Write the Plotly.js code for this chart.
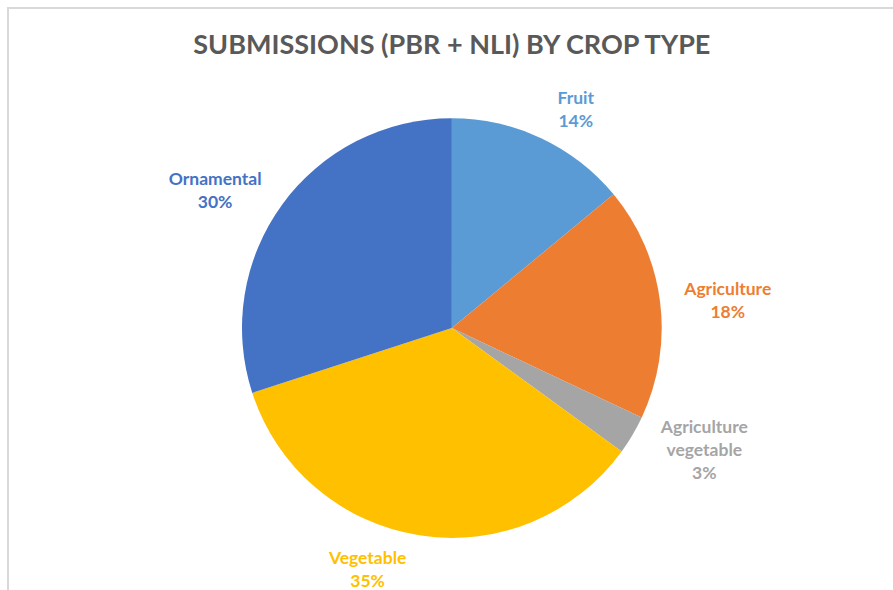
<!DOCTYPE html>
<html>
<head>
<meta charset="utf-8">
<script src="https://cdn.plot.ly/plotly-3.0.1.min.js"></script>
<style>
  html, body { margin: 0; padding: 0; background: #fff; }
  #chart { width: 893px; height: 590px; }
  #frame { position: absolute; left: 7px; top: 7px; width: 900px; height: 600px;
           border-left: 2px solid #d9d9d9; border-top: 2px solid #d9d9d9; pointer-events: none; }
</style>
</head>
<body>
<div id="chart"></div>
<div id="frame"></div>
<script>
const categories = ["Fruit", "Agriculture", "Agriculture<br>vegetable", "Vegetable", "Ornamental"];
const values = [14, 18, 3, 35, 30];
const colors = ["#5B9BD5", "#ED7D31", "#A5A5A5", "#FFC000", "#4472C4"];
const labelColors = ["#5B9BD5", "#ED7D31", "#A5A5A5", "#FFC000", "#4472C4"];
const clear = categories.map(() => "rgba(0,0,0,0)");

// visible pie (no text)
const pieTrace = {
  type: "pie",
  labels: categories,
  values: values,
  sort: false,
  direction: "clockwise",
  rotation: 0,
  marker: { colors: colors, line: { color: "#ffffff", width: 0 } },
  textinfo: "none",
  domain: { x: [0.271, 0.741], y: [0.088, 0.8] },
  automargin: false,
  showlegend: false,
  hoverinfo: "label+percent"
};

// slightly larger transparent pie carrying the outside data labels
const labelTrace = {
  type: "pie",
  labels: categories,
  values: values,
  sort: false,
  direction: "clockwise",
  rotation: 0,
  marker: { colors: clear, line: { width: 0 } },
  textinfo: "label+percent",
  textposition: "outside",
  outsidetextfont: { family: "Lato, 'Open Sans', sans-serif", size: 17.5, color: labelColors, weight: "bold" },
  domain: { x: [0.2576, 0.7548], y: [0.0677, 0.8203] },
  automargin: false,
  showlegend: false,
  hoverinfo: "skip"
};

const layout = {
  width: 893,
  height: 590,
  margin: { l: 0, r: 0, t: 0, b: 0 },
  paper_bgcolor: "#ffffff",
  title: {
    text: "<b>SUBMISSIONS (PBR + NLI) BY CROP TYPE</b>",
    font: { family: "Lato, 'Open Sans', sans-serif", size: 27, color: "#595959" },
    x: 0.506, xanchor: "center",
    y: 0.925, yanchor: "middle"
  },
  showlegend: false
};

Plotly.newPlot("chart", [pieTrace, labelTrace], layout, { displayModeBar: false, staticPlot: true });
</script>
</body>
</html>
